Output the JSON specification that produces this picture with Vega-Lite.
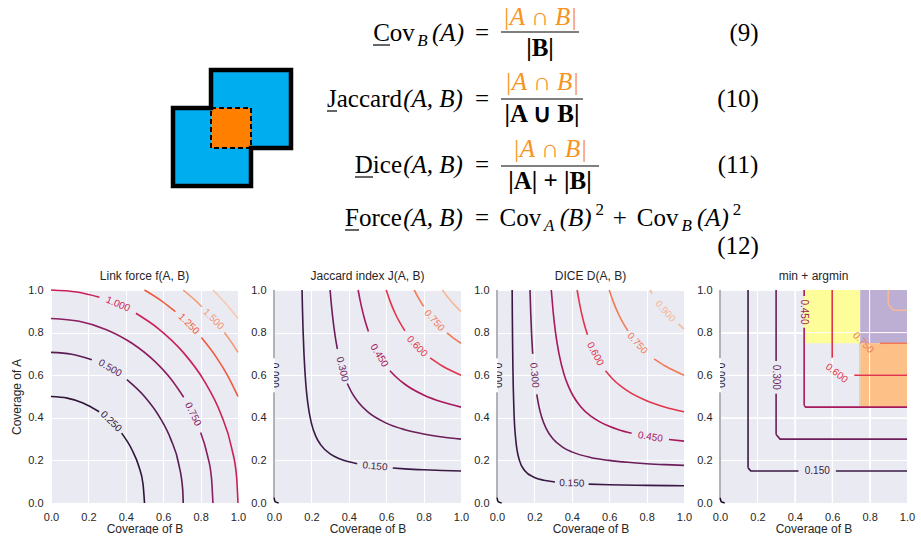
{
"$schema": "https://vega.github.io/schema/vega-lite/v6.json",
"padding": {"left": 10, "top": 0, "right": 0, "bottom": 0},
"background": "white",
"config": {
 "view": {"fill": "#EAEAF2", "stroke": null},
 "axis": {"domain": false, "ticks": false, "labelFlush": false, "gridColor": "white", "gridWidth": 1, "labelFont": "Liberation Sans", "labelFontSize": 11, "labelColor": "#262626", "titleFont": "Liberation Sans", "titleFontSize": 12, "titleFontWeight": "normal", "titleColor": "#262626"},
 "title": {"font": "Liberation Sans", "fontSize": 12, "fontWeight": "normal", "color": "#262626", "offset": 1}
},
"datasets": {
 "sq": [
  {"lv": "sqb", "x": 210, "x2": 290, "y": 70, "y2": 148},
  {"lv": "sqb", "x": 172, "x2": 250, "y": 108, "y2": 186},
  {"lv": "sqo", "x": 210, "x2": 250, "y": 108, "y2": 148}
 ],
 "outline": [
  {"o": 0, "x": 210, "y": 70}, {"o": 1, "x": 290, "y": 70}, {"o": 2, "x": 290, "y": 148},
  {"o": 3, "x": 250, "y": 148}, {"o": 4, "x": 250, "y": 186}, {"o": 5, "x": 172, "y": 186},
  {"o": 6, "x": 172, "y": 108}, {"o": 7, "x": 210, "y": 108}, {"o": 8, "x": 210, "y": 70}
 ],
 "dash": [{"x": 210, "x2": 250, "y": 108, "y2": 148}],
 "rl": [
  {"x": 500, "x2": 578, "y": 32}, {"x": 500, "x2": 582, "y": 99}, {"x": 500, "x2": 598, "y": 166},
  {"x": 372, "x2": 389, "y": 45}, {"x": 326, "x2": 336, "y": 111}, {"x": 354, "x2": 372, "y": 177}, {"x": 344, "x2": 358, "y": 230}
 ],
 "eq": [
  {"k": "rm", "x": 393, "y": 41, "t": "Cov"},
  {"k": "rm", "x": 363.5, "y": 107, "t": "Jaccard"},
  {"k": "rm", "x": 377.4, "y": 173, "t": "Dice"},
  {"k": "rm", "x": 372.5, "y": 226, "t": "Force"},
  {"k": "rm", "x": 481, "y": 41, "t": "="},
  {"k": "rm", "x": 481, "y": 107, "t": "="},
  {"k": "rm", "x": 481, "y": 173, "t": "="},
  {"k": "rm", "x": 481, "y": 226, "t": "="},
  {"k": "rm", "x": 519.3, "y": 226, "t": "Cov"},
  {"k": "rm", "x": 618.7, "y": 226, "t": "+"},
  {"k": "rm", "x": 656.6, "y": 226, "t": "Cov"},
  {"k": "rm", "x": 743, "y": 41, "t": "(9)"},
  {"k": "rm", "x": 737, "y": 107, "t": "(10)"},
  {"k": "rm", "x": 737, "y": 173, "t": "(11)"},
  {"k": "rm", "x": 737, "y": 254, "t": "(12)"},
  {"k": "it", "x": 447, "y": 41, "t": "(A)"},
  {"k": "it", "x": 432, "y": 107, "t": "(A, B)"},
  {"k": "it", "x": 432, "y": 173, "t": "(A, B)"},
  {"k": "it", "x": 432, "y": 226, "t": "(A, B)"},
  {"k": "it", "x": 574.6, "y": 226, "t": "(B)"},
  {"k": "it", "x": 711.9, "y": 226, "t": "(A)"},
  {"k": "sub", "x": 421.5, "y": 46, "t": "B"},
  {"k": "sub", "x": 548.3, "y": 231, "t": "A"},
  {"k": "sub", "x": 685.7, "y": 231, "t": "B"},
  {"k": "sup", "x": 598.7, "y": 215, "t": "2"},
  {"k": "sup", "x": 735.9, "y": 215, "t": "2"},
  {"k": "num", "x": 539, "y": 25, "t": "|A ∩ B|"},
  {"k": "num", "x": 541, "y": 90, "t": "|A ∩ B|"},
  {"k": "num", "x": 549, "y": 157, "t": "|A ∩ B|"},
  {"k": "den", "x": 539, "y": 56, "t": "|B|"},
  {"k": "den", "x": 541, "y": 122, "t": "|A ∪ B|"},
  {"k": "den", "x": 549, "y": 189, "t": "|A| + |B|"}
 ],
 "regions": [
  {"lv": "yel", "B": 0.45, "B2": 0.75, "A": 0.75, "A2": 1},
  {"lv": "pur", "B": 0.75, "B2": 1, "A": 0.75, "A2": 1},
  {"lv": "ora", "B": 0.75, "B2": 1, "A": 0.45, "A2": 0.75},
  {"lv": "grn", "B": 0.744, "B2": 0.75, "A": 0.45, "A2": 0.75}
 ],
 "lines": [
  {"p":1,"lv":"F.25","s":"1a","B":0,"A":0.5},{"p":1,"lv":"F.25","s":"1a","B":0.0868,"A":0.4924},{"p":1,"lv":"F.25","s":"1a","B":0.171,"A":0.47},{"p":1,"lv":"F.25","s":"1a","B":0.2575,"A":0.4286},
  {"p":1,"lv":"F.25","s":"1b","B":0.3774,"A":0.328},{"p":1,"lv":"F.25","s":"1b","B":0.433,"A":0.25},{"p":1,"lv":"F.25","s":"1b","B":0.47,"A":0.171},{"p":1,"lv":"F.25","s":"1b","B":0.4924,"A":0.0868},{"p":1,"lv":"F.25","s":"1b","B":0.5,"A":0},
  {"p":1,"lv":"F.50","s":"2a","B":0,"A":0.7071},{"p":1,"lv":"F.50","s":"2a","B":0.1106,"A":0.6984},{"p":1,"lv":"F.50","s":"2a","B":0.2185,"A":0.6725},
  {"p":1,"lv":"F.50","s":"2b","B":0.4056,"A":0.5792},{"p":1,"lv":"F.50","s":"2b","B":0.5,"A":0.5},{"p":1,"lv":"F.50","s":"2b","B":0.5792,"A":0.4056},{"p":1,"lv":"F.50","s":"2b","B":0.6409,"A":0.2988},{"p":1,"lv":"F.50","s":"2b","B":0.683,"A":0.183},{"p":1,"lv":"F.50","s":"2b","B":0.7044,"A":0.0616},{"p":1,"lv":"F.50","s":"2b","B":0.7071,"A":0},
  {"p":1,"lv":"F.75","s":"3a","B":0,"A":0.866},{"p":1,"lv":"F.75","s":"3a","B":0.1504,"A":0.8529},{"p":1,"lv":"F.75","s":"3a","B":0.2962,"A":0.8138},{"p":1,"lv":"F.75","s":"3a","B":0.433,"A":0.75},{"p":1,"lv":"F.75","s":"3a","B":0.5567,"A":0.6634},{"p":1,"lv":"F.75","s":"3a","B":0.6436,"A":0.5795},{"p":1,"lv":"F.75","s":"3a","B":0.7094,"A":0.4967},
  {"p":1,"lv":"F.75","s":"3b","B":0.8001,"A":0.3314},{"p":1,"lv":"F.75","s":"3b","B":0.8365,"A":0.2241},{"p":1,"lv":"F.75","s":"3b","B":0.8586,"A":0.113},{"p":1,"lv":"F.75","s":"3b","B":0.866,"A":0},
  {"p":1,"lv":"F1.00","s":"4a","B":0,"A":1},{"p":1,"lv":"F1.00","s":"4a","B":0.1392,"A":0.9903},{"p":1,"lv":"F1.00","s":"4a","B":0.2588,"A":0.9659},
  {"p":1,"lv":"F1.00","s":"4b","B":0.454,"A":0.891},{"p":1,"lv":"F1.00","s":"4b","B":0.5736,"A":0.8192},{"p":1,"lv":"F1.00","s":"4b","B":0.7071,"A":0.7071},{"p":1,"lv":"F1.00","s":"4b","B":0.8192,"A":0.5736},{"p":1,"lv":"F1.00","s":"4b","B":0.9063,"A":0.4226},{"p":1,"lv":"F1.00","s":"4b","B":0.9659,"A":0.2588},{"p":1,"lv":"F1.00","s":"4b","B":0.9925,"A":0.1219},{"p":1,"lv":"F1.00","s":"4b","B":1,"A":0},
  {"p":1,"lv":"F1.25","s":"5a","B":0.5,"A":1},{"p":1,"lv":"F1.25","s":"5a","B":0.5924,"A":0.9481},{"p":1,"lv":"F1.25","s":"5a","B":0.665,"A":0.8987},
  {"p":1,"lv":"F1.25","s":"5b","B":0.8042,"A":0.7766},{"p":1,"lv":"F1.25","s":"5b","B":0.881,"A":0.6883},{"p":1,"lv":"F1.25","s":"5b","B":0.9481,"A":0.5924},{"p":1,"lv":"F1.25","s":"5b","B":1,"A":0.5},
  {"p":1,"lv":"F1.50","s":"6a","B":0.7071,"A":1},{"p":1,"lv":"F1.50","s":"6a","B":0.7573,"A":0.9625},{"p":1,"lv":"F1.50","s":"6a","B":0.8067,"A":0.9215},
  {"p":1,"lv":"F1.50","s":"6b","B":0.9272,"A":0.8002},{"p":1,"lv":"F1.50","s":"6b","B":0.9651,"A":0.754},{"p":1,"lv":"F1.50","s":"6b","B":1,"A":0.7071},
  {"p":1,"lv":"F1.75","s":"7","B":0.866,"A":1},{"p":1,"lv":"F1.75","s":"7","B":0.9354,"A":0.9354},{"p":1,"lv":"F1.75","s":"7","B":1,"A":0.866},

  {"p":2,"lv":"0.15","s":"j15a","B":0.15,"A":1},{"p":2,"lv":"0.15","s":"j15a","B":0.152,"A":0.919},{"p":2,"lv":"0.15","s":"j15a","B":0.155,"A":0.823},{"p":2,"lv":"0.15","s":"j15a","B":0.16,"A":0.706},{"p":2,"lv":"0.15","s":"j15a","B":0.17,"A":0.56},{"p":2,"lv":"0.15","s":"j15a","B":0.18,"A":0.474},{"p":2,"lv":"0.15","s":"j15a","B":0.2,"A":0.375},{"p":2,"lv":"0.15","s":"j15a","B":0.225,"A":0.3103},{"p":2,"lv":"0.15","s":"j15a","B":0.25,"A":0.273},{"p":2,"lv":"0.15","s":"j15a","B":0.3,"A":0.2308},{"p":2,"lv":"0.15","s":"j15a","B":0.35,"A":0.2079},{"p":2,"lv":"0.15","s":"j15a","B":0.4,"A":0.1935},{"p":2,"lv":"0.15","s":"j15a","B":0.445,"A":0.1845},
  {"p":2,"lv":"0.15","s":"j15b","B":0.635,"A":0.1642},{"p":2,"lv":"0.15","s":"j15b","B":0.7,"A":0.1603},{"p":2,"lv":"0.15","s":"j15b","B":0.8,"A":0.1558},{"p":2,"lv":"0.15","s":"j15b","B":0.9,"A":0.1525},{"p":2,"lv":"0.15","s":"j15b","B":1,"A":0.15},
  {"p":2,"lv":"0.30","s":"j30a","B":0.3,"A":1},{"p":2,"lv":"0.30","s":"j30a","B":0.305,"A":0.948},{"p":2,"lv":"0.30","s":"j30a","B":0.31,"A":0.903},{"p":2,"lv":"0.30","s":"j30a","B":0.32,"A":0.828},{"p":2,"lv":"0.30","s":"j30a","B":0.33,"A":0.767},{"p":2,"lv":"0.30","s":"j30a","B":0.339,"A":0.723},
  {"p":2,"lv":"0.30","s":"j30b","B":0.392,"A":0.561},{"p":2,"lv":"0.30","s":"j30b","B":0.42,"A":0.512},{"p":2,"lv":"0.30","s":"j30b","B":0.45,"A":0.474},{"p":2,"lv":"0.30","s":"j30b","B":0.5,"A":0.4286},{"p":2,"lv":"0.30","s":"j30b","B":0.6,"A":0.375},{"p":2,"lv":"0.30","s":"j30b","B":0.7,"A":0.344},{"p":2,"lv":"0.30","s":"j30b","B":0.8,"A":0.324},{"p":2,"lv":"0.30","s":"j30b","B":0.9,"A":0.31},{"p":2,"lv":"0.30","s":"j30b","B":1,"A":0.3},
  {"p":2,"lv":"0.45","s":"j45a","B":0.45,"A":1},{"p":2,"lv":"0.45","s":"j45a","B":0.46,"A":0.954},{"p":2,"lv":"0.45","s":"j45a","B":0.47,"A":0.914},{"p":2,"lv":"0.45","s":"j45a","B":0.48,"A":0.878},{"p":2,"lv":"0.45","s":"j45a","B":0.49,"A":0.846},{"p":2,"lv":"0.45","s":"j45a","B":0.505,"A":0.805},
  {"p":2,"lv":"0.45","s":"j45b","B":0.62,"A":0.621},{"p":2,"lv":"0.45","s":"j45b","B":0.65,"A":0.594},{"p":2,"lv":"0.45","s":"j45b","B":0.7,"A":0.5575},{"p":2,"lv":"0.45","s":"j45b","B":0.8,"A":0.507},{"p":2,"lv":"0.45","s":"j45b","B":0.9,"A":0.4737},{"p":2,"lv":"0.45","s":"j45b","B":1,"A":0.45},
  {"p":2,"lv":"0.60","s":"j60a","B":0.6,"A":1},{"p":2,"lv":"0.60","s":"j60a","B":0.62,"A":0.949},{"p":2,"lv":"0.60","s":"j60a","B":0.65,"A":0.886},{"p":2,"lv":"0.60","s":"j60a","B":0.7,"A":0.808},
  {"p":2,"lv":"0.60","s":"j60b","B":0.835,"A":0.681},{"p":2,"lv":"0.60","s":"j60b","B":0.9,"A":0.643},{"p":2,"lv":"0.60","s":"j60b","B":1,"A":0.6},
  {"p":2,"lv":"0.75","s":"j75a","B":0.75,"A":1},{"p":2,"lv":"0.75","s":"j75a","B":0.77,"A":0.9665},{"p":2,"lv":"0.75","s":"j75a","B":0.8,"A":0.923},
  {"p":2,"lv":"0.75","s":"j75b","B":0.925,"A":0.7986},{"p":2,"lv":"0.75","s":"j75b","B":0.96,"A":0.774},{"p":2,"lv":"0.75","s":"j75b","B":1,"A":0.75},
  {"p":2,"lv":"0.90","s":"j90","B":0.9,"A":1},{"p":2,"lv":"0.90","s":"j90","B":0.92,"A":0.976},{"p":2,"lv":"0.90","s":"j90","B":0.95,"A":0.945},{"p":2,"lv":"0.90","s":"j90","B":0.975,"A":0.921},{"p":2,"lv":"0.90","s":"j90","B":1,"A":0.9},
  {"p":2,"lv":"0.00","s":"z2a","B":0,"A":1},{"p":2,"lv":"0.00","s":"z2a","B":0,"A":0.68},
  {"p":2,"lv":"0.00","s":"z2b","B":0,"A":0.52},{"p":2,"lv":"0.00","s":"z2b","B":0,"A":0.025},
  {"p":2,"lv":"0.00h","s":"z2c","B":0,"A":0.025},{"p":2,"lv":"0.00h","s":"z2c","B":0.006,"A":0.006},{"p":2,"lv":"0.00h","s":"z2c","B":0.025,"A":0},

  {"p":3,"lv":"0.15","s":"d15a","B":0.0811,"A":1},{"p":3,"lv":"0.15","s":"d15a","B":0.082,"A":0.879},{"p":3,"lv":"0.15","s":"d15a","B":0.083,"A":0.778},{"p":3,"lv":"0.15","s":"d15a","B":0.085,"A":0.6375},{"p":3,"lv":"0.15","s":"d15a","B":0.09,"A":0.45},{"p":3,"lv":"0.15","s":"d15a","B":0.1,"A":0.3},{"p":3,"lv":"0.15","s":"d15a","B":0.12,"A":0.2},{"p":3,"lv":"0.15","s":"d15a","B":0.15,"A":0.15},{"p":3,"lv":"0.15","s":"d15a","B":0.2,"A":0.12},{"p":3,"lv":"0.15","s":"d15a","B":0.25,"A":0.107},{"p":3,"lv":"0.15","s":"d15a","B":0.31,"A":0.0989},
  {"p":3,"lv":"0.15","s":"d15b","B":0.49,"A":0.0886},{"p":3,"lv":"0.15","s":"d15b","B":0.6,"A":0.0857},{"p":3,"lv":"0.15","s":"d15b","B":0.8,"A":0.0828},{"p":3,"lv":"0.15","s":"d15b","B":1,"A":0.0811},
  {"p":3,"lv":"0.30","s":"d30a","B":0.1765,"A":1},{"p":3,"lv":"0.30","s":"d30a","B":0.18,"A":0.9},{"p":3,"lv":"0.30","s":"d30a","B":0.1846,"A":0.8},{"p":3,"lv":"0.30","s":"d30a","B":0.1909,"A":0.7},
  {"p":3,"lv":"0.30","s":"d30b","B":0.2125,"A":0.51},{"p":3,"lv":"0.30","s":"d30b","B":0.225,"A":0.45},{"p":3,"lv":"0.30","s":"d30b","B":0.24,"A":0.4},{"p":3,"lv":"0.30","s":"d30b","B":0.2625,"A":0.35},{"p":3,"lv":"0.30","s":"d30b","B":0.3,"A":0.3},{"p":3,"lv":"0.30","s":"d30b","B":0.35,"A":0.2625},{"p":3,"lv":"0.30","s":"d30b","B":0.4,"A":0.24},{"p":3,"lv":"0.30","s":"d30b","B":0.5,"A":0.214},{"p":3,"lv":"0.30","s":"d30b","B":0.6,"A":0.2},{"p":3,"lv":"0.30","s":"d30b","B":0.7,"A":0.191},{"p":3,"lv":"0.30","s":"d30b","B":0.8,"A":0.1846},{"p":3,"lv":"0.30","s":"d30b","B":0.9,"A":0.18},{"p":3,"lv":"0.30","s":"d30b","B":1,"A":0.1765},
  {"p":3,"lv":"0.45","s":"d45a","B":0.2903,"A":1},{"p":3,"lv":"0.45","s":"d45a","B":0.3,"A":0.9},{"p":3,"lv":"0.45","s":"d45a","B":0.313,"A":0.8},{"p":3,"lv":"0.45","s":"d45a","B":0.3316,"A":0.7},{"p":3,"lv":"0.45","s":"d45a","B":0.36,"A":0.6},{"p":3,"lv":"0.45","s":"d45a","B":0.381,"A":0.55},{"p":3,"lv":"0.45","s":"d45a","B":0.409,"A":0.5},{"p":3,"lv":"0.45","s":"d45a","B":0.45,"A":0.45},{"p":3,"lv":"0.45","s":"d45a","B":0.5,"A":0.409},{"p":3,"lv":"0.45","s":"d45a","B":0.55,"A":0.381},{"p":3,"lv":"0.45","s":"d45a","B":0.6,"A":0.36},{"p":3,"lv":"0.45","s":"d45a","B":0.65,"A":0.344},{"p":3,"lv":"0.45","s":"d45a","B":0.72,"A":0.327},
  {"p":3,"lv":"0.45","s":"d45b","B":0.92,"A":0.2978},{"p":3,"lv":"0.45","s":"d45b","B":1,"A":0.2903},
  {"p":3,"lv":"0.60","s":"d60a","B":0.4286,"A":1},{"p":3,"lv":"0.60","s":"d60a","B":0.4385,"A":0.95},{"p":3,"lv":"0.60","s":"d60a","B":0.45,"A":0.9},{"p":3,"lv":"0.60","s":"d60a","B":0.4636,"A":0.85},{"p":3,"lv":"0.60","s":"d60a","B":0.4837,"A":0.79},
  {"p":3,"lv":"0.60","s":"d60b","B":0.58,"A":0.621},{"p":3,"lv":"0.60","s":"d60b","B":0.62,"A":0.581},{"p":3,"lv":"0.60","s":"d60b","B":0.7,"A":0.525},{"p":3,"lv":"0.60","s":"d60b","B":0.8,"A":0.48},{"p":3,"lv":"0.60","s":"d60b","B":0.9,"A":0.45},{"p":3,"lv":"0.60","s":"d60b","B":1,"A":0.4286},
  {"p":3,"lv":"0.75","s":"d75a","B":0.6,"A":1},{"p":3,"lv":"0.75","s":"d75a","B":0.62,"A":0.949},{"p":3,"lv":"0.75","s":"d75a","B":0.65,"A":0.886},{"p":3,"lv":"0.75","s":"d75a","B":0.7,"A":0.808},
  {"p":3,"lv":"0.75","s":"d75b","B":0.84,"A":0.677},{"p":3,"lv":"0.75","s":"d75b","B":0.9,"A":0.643},{"p":3,"lv":"0.75","s":"d75b","B":1,"A":0.6},
  {"p":3,"lv":"0.90","s":"d90a","B":0.818,"A":1},{"p":3,"lv":"0.90","s":"d90a","B":0.83,"A":0.983},
  {"p":3,"lv":"0.90","s":"d90b","B":0.97,"A":0.8394},{"p":3,"lv":"0.90","s":"d90b","B":1,"A":0.818},
  {"p":3,"lv":"0.00","s":"z3a","B":0,"A":1},{"p":3,"lv":"0.00","s":"z3a","B":0,"A":0.68},
  {"p":3,"lv":"0.00","s":"z3b","B":0,"A":0.52},{"p":3,"lv":"0.00","s":"z3b","B":0,"A":0.025},
  {"p":3,"lv":"0.00h","s":"z3c","B":0,"A":0.025},{"p":3,"lv":"0.00h","s":"z3c","B":0.006,"A":0.006},{"p":3,"lv":"0.00h","s":"z3c","B":0.025,"A":0},

  {"p":4,"lv":"0.15","s":"m15v","B":0.15,"A":1},{"p":4,"lv":"0.15","s":"m15v","B":0.15,"A":0.165},
  {"p":4,"lv":"0.15","s":"m15h","B":0.15,"A":0.165},{"p":4,"lv":"0.15","s":"m15h","B":0.165,"A":0.15},{"p":4,"lv":"0.15","s":"m15h","B":0.42,"A":0.15},
  {"p":4,"lv":"0.15","s":"m15h2","B":0.62,"A":0.15},{"p":4,"lv":"0.15","s":"m15h2","B":1,"A":0.15},
  {"p":4,"lv":"0.30","s":"m30v1","B":0.3,"A":1},{"p":4,"lv":"0.30","s":"m30v1","B":0.3,"A":0.667},
  {"p":4,"lv":"0.30","s":"m30v2","B":0.3,"A":0.513},{"p":4,"lv":"0.30","s":"m30v2","B":0.3,"A":0.322},
  {"p":4,"lv":"0.30","s":"m30h","B":0.3,"A":0.322},{"p":4,"lv":"0.30","s":"m30h","B":0.321,"A":0.3},{"p":4,"lv":"0.30","s":"m30h","B":1,"A":0.3},
  {"p":4,"lv":"0.45","s":"m45v1","B":0.45,"A":1},{"p":4,"lv":"0.45","s":"m45v1","B":0.45,"A":0.972},
  {"p":4,"lv":"0.45","s":"m45v2","B":0.45,"A":0.823},{"p":4,"lv":"0.45","s":"m45v2","B":0.45,"A":0.458},
  {"p":4,"lv":"0.45","s":"m45h","B":0.45,"A":0.458},{"p":4,"lv":"0.45","s":"m45h","B":0.458,"A":0.45},{"p":4,"lv":"0.45","s":"m45h","B":1,"A":0.45},
  {"p":4,"lv":"0.60","s":"m60v","B":0.6,"A":1},{"p":4,"lv":"0.60","s":"m60v","B":0.6,"A":0.682},
  {"p":4,"lv":"0.60","s":"m60h","B":0.718,"A":0.6},{"p":4,"lv":"0.60","s":"m60h","B":1,"A":0.6},
  {"p":4,"lv":"0.75","s":"m75h","B":0.856,"A":0.75},{"p":4,"lv":"0.75","s":"m75h","B":1,"A":0.75},
  {"p":4,"lv":"0.90","s":"m90v","B":0.9,"A":1},{"p":4,"lv":"0.90","s":"m90v","B":0.9,"A":0.93},
  {"p":4,"lv":"0.90","s":"m90h","B":0.9,"A":0.93},{"p":4,"lv":"0.90","s":"m90h","B":0.927,"A":0.905},{"p":4,"lv":"0.90","s":"m90h","B":1,"A":0.905},
  {"p":4,"lv":"0.00","s":"z4a","B":0,"A":1},{"p":4,"lv":"0.00","s":"z4a","B":0,"A":0.68},
  {"p":4,"lv":"0.00","s":"z4b","B":0,"A":0.52},{"p":4,"lv":"0.00","s":"z4b","B":0,"A":0.025},
  {"p":4,"lv":"0.00h","s":"z4c","B":0,"A":0.025},{"p":4,"lv":"0.00h","s":"z4c","B":0.006,"A":0.006},{"p":4,"lv":"0.00h","s":"z4c","B":0.025,"A":0}
 ],
 "labels": [
  {"p":1,"lv":"F.25","B":0.3214,"A":0.383,"t":"0.250","ang":44},
  {"p":1,"lv":"F.50","B":0.3155,"A":0.6328,"t":"0.500","ang":30},
  {"p":1,"lv":"F.75","B":0.7593,"A":0.4165,"t":"0.750","ang":64},
  {"p":1,"lv":"F1.00","B":0.3584,"A":0.9336,"t":"1.000","ang":23},
  {"p":1,"lv":"F1.25","B":0.7367,"A":0.841,"t":"1.250","ang":45},
  {"p":1,"lv":"F1.50","B":0.869,"A":0.863,"t":"1.500","ang":45},
  {"p":2,"lv":"0.15","B":0.54,"A":0.172,"t":"0.150","ang":5},
  {"p":2,"lv":"0.30","B":0.365,"A":0.628,"t":"0.300","ang":77},
  {"p":2,"lv":"0.45","B":0.5625,"A":0.692,"t":"0.450","ang":58},
  {"p":2,"lv":"0.60","B":0.765,"A":0.7356,"t":"0.600","ang":46},
  {"p":2,"lv":"0.75","B":0.857,"A":0.857,"t":"0.750","ang":48},
  {"p":2,"lv":"0.00h","B":0,"A":0.6,"t":"0.000","ang":90},
  {"p":3,"lv":"0.15","B":0.4,"A":0.0923,"t":"0.150","ang":1},
  {"p":3,"lv":"0.30","B":0.2,"A":0.6,"t":"0.300","ang":85},
  {"p":3,"lv":"0.45","B":0.82,"A":0.31,"t":"0.450","ang":9},
  {"p":3,"lv":"0.60","B":0.525,"A":0.7,"t":"0.600","ang":62},
  {"p":3,"lv":"0.75","B":0.75,"A":0.75,"t":"0.750","ang":48},
  {"p":3,"lv":"0.90","B":0.9,"A":0.9,"t":"0.900","ang":48},
  {"p":3,"lv":"0.00h","B":0,"A":0.6,"t":"0.000","ang":90},
  {"p":4,"lv":"0.15","B":0.52,"A":0.15,"t":"0.150","ang":0},
  {"p":4,"lv":"0.30","B":0.3,"A":0.59,"t":"0.300","ang":90},
  {"p":4,"lv":"0.45","B":0.45,"A":0.897,"t":"0.450","ang":90},
  {"p":4,"lv":"0.60","B":0.624,"A":0.609,"t":"0.600","ang":38},
  {"p":4,"lv":"0.75","B":0.766,"A":0.753,"t":"0.750","ang":45},
  {"p":4,"lv":"0.00h","B":0,"A":0.6,"t":"0.000","ang":90}
 ]
},
"spacing": 10,
"vconcat": [
 {
  "width": 871, "height": 260,
  "view": {"fill": null, "stroke": null},
  "encoding": {
   "x": {"field": "x", "type": "quantitative", "scale": {"domain": [50, 921], "nice": false, "zero": false}, "axis": null},
   "y": {"field": "y", "type": "quantitative", "scale": {"domain": [0, 260], "nice": false, "zero": false, "reverse": true}, "axis": null}
  },
  "layer": [
   {"data": {"name": "sq"}, "mark": {"type": "rect"}, "encoding": {"x2": {"field": "x2"}, "y2": {"field": "y2"}, "color": {"field": "lv", "type": "nominal", "legend": null, "scale": {"domain": ["F.25","F.50","F.75","F1.00","F1.25","F1.50","F1.75","0.15","0.30","0.45","0.60","0.75","0.90","0.00","0.00h","yel","pur","ora","grn","sqb","sqo"], "range": ["#2e1538","#5a1c52","#8c1d5e","#cb1f57","#ee5a3e","#f59872","#f8c8ae","#3a1a45","#6c1e5a","#a7195c","#e2344a","#f07a56","#f6b896","#9e9ea8","#1a0e26","#fdfd99","#bdafd4","#fdc087","#c2dcbc","#00aeef","#ff7f00"]}}}},
   {"data": {"name": "outline"}, "mark": {"type": "line", "color": "black", "strokeWidth": 4.5, "strokeJoin": "miter", "strokeCap": "square"}, "encoding": {"order": {"field": "o", "type": "quantitative"}}},
   {"data": {"name": "dash"}, "mark": {"type": "rect", "filled": false, "color": "black", "strokeWidth": 2, "strokeDash": [5, 3]}, "encoding": {"x2": {"field": "x2"}, "y2": {"field": "y2"}}},
   {"data": {"name": "rl"}, "mark": {"type": "rule", "color": "black", "strokeWidth": 1.2}, "encoding": {"x2": {"field": "x2"}}},
   {"data": {"name": "eq"}, "transform": [{"filter": "datum.k == 'rm'"}], "mark": {"type": "text", "font": "Liberation Serif", "fontSize": 25, "align": "center", "baseline": "alphabetic", "color": "black"}, "encoding": {"text": {"field": "t"}}},
   {"data": {"name": "eq"}, "transform": [{"filter": "datum.k == 'it'"}], "mark": {"type": "text", "font": "Liberation Serif", "fontSize": 25, "fontStyle": "italic", "align": "center", "baseline": "alphabetic", "color": "black"}, "encoding": {"text": {"field": "t"}}},
   {"data": {"name": "eq"}, "transform": [{"filter": "datum.k == 'sub'"}], "mark": {"type": "text", "font": "Liberation Serif", "fontSize": 17, "fontStyle": "italic", "align": "center", "baseline": "alphabetic", "color": "black"}, "encoding": {"text": {"field": "t"}}},
   {"data": {"name": "eq"}, "transform": [{"filter": "datum.k == 'sup'"}], "mark": {"type": "text", "font": "Liberation Serif", "fontSize": 17, "align": "center", "baseline": "alphabetic", "color": "black"}, "encoding": {"text": {"field": "t"}}},
   {"data": {"name": "eq"}, "transform": [{"filter": "datum.k == 'num'"}], "mark": {"type": "text", "font": "Liberation Serif", "fontSize": 25, "fontStyle": "italic", "align": "center", "baseline": "alphabetic", "color": "#f7931e"}, "encoding": {"text": {"field": "t"}}},
   {"data": {"name": "eq"}, "transform": [{"filter": "datum.k == 'den'"}], "mark": {"type": "text", "font": "Liberation Serif", "fontSize": 25, "fontWeight": "bold", "align": "center", "baseline": "alphabetic", "color": "black"}, "encoding": {"text": {"field": "t"}}}
  ]
 },
 {
  "spacing": 4,
  "hconcat": [
   {
    "width": 187, "height": 213, "title": "Link force f(A, B)",
    "encoding": {
     "x": {"field": "B", "type": "quantitative", "title": "Coverage of B", "scale": {"domain": [0, 1], "nice": false, "zero": false}, "axis": {"values": [0, 0.2, 0.4, 0.6, 0.8, 1], "format": ".1f", "labelPadding": 8, "titlePadding": 1}},
     "y": {"field": "A", "type": "quantitative", "title": "Coverage of A", "scale": {"domain": [0, 1], "nice": false, "zero": false}, "axis": {"values": [0, 0.2, 0.4, 0.6, 0.8, 1], "format": ".1f", "labelPadding": 8, "titlePadding": 4}},
     "color": {"field": "lv", "type": "nominal", "legend": null, "scale": {"domain": ["F.25","F.50","F.75","F1.00","F1.25","F1.50","F1.75","0.15","0.30","0.45","0.60","0.75","0.90","0.00","0.00h","yel","pur","ora","grn","sqb","sqo"], "range": ["#2e1538","#5a1c52","#8c1d5e","#cb1f57","#ee5a3e","#f59872","#f8c8ae","#3a1a45","#6c1e5a","#a7195c","#e2344a","#f07a56","#f6b896","#9e9ea8","#1a0e26","#fdfd99","#bdafd4","#fdc087","#c2dcbc","#00aeef","#ff7f00"]}}
    },
    "layer": [
     {"data": {"name": "lines"}, "transform": [{"filter": "datum.p == 1"}], "mark": {"type": "line", "strokeWidth": 1.6, "interpolate": "monotone"}, "encoding": {"detail": {"field": "s"}}},
     {"data": {"name": "labels"}, "transform": [{"filter": "datum.p == 1"}], "mark": {"type": "text", "font": "Liberation Sans", "fontSize": 10, "align": "center", "baseline": "middle", "clip": true}, "encoding": {"text": {"field": "t"}, "angle": {"field": "ang", "type": "quantitative", "scale": null}}}
    ]
   },
   {
    "width": 187, "height": 213, "title": "Jaccard index J(A, B)",
    "encoding": {
     "x": {"field": "B", "type": "quantitative", "title": "Coverage of B", "scale": {"domain": [0, 1], "nice": false, "zero": false}, "axis": {"values": [0, 0.2, 0.4, 0.6, 0.8, 1], "format": ".1f", "labelPadding": 8, "titlePadding": 1}},
     "y": {"field": "A", "type": "quantitative", "title": null, "scale": {"domain": [0, 1], "nice": false, "zero": false}, "axis": {"values": [0, 0.2, 0.4, 0.6, 0.8, 1], "format": ".1f", "labelPadding": 8}},
     "color": {"field": "lv", "type": "nominal", "legend": null, "scale": {"domain": ["F.25","F.50","F.75","F1.00","F1.25","F1.50","F1.75","0.15","0.30","0.45","0.60","0.75","0.90","0.00","0.00h","yel","pur","ora","grn","sqb","sqo"], "range": ["#2e1538","#5a1c52","#8c1d5e","#cb1f57","#ee5a3e","#f59872","#f8c8ae","#3a1a45","#6c1e5a","#a7195c","#e2344a","#f07a56","#f6b896","#9e9ea8","#1a0e26","#fdfd99","#bdafd4","#fdc087","#c2dcbc","#00aeef","#ff7f00"]}}
    },
    "layer": [
     {"data": {"name": "lines"}, "transform": [{"filter": "datum.p == 2"}], "mark": {"type": "line", "strokeWidth": 1.6, "interpolate": "monotone"}, "encoding": {"detail": {"field": "s"}}},
     {"data": {"name": "labels"}, "transform": [{"filter": "datum.p == 2"}], "mark": {"type": "text", "font": "Liberation Sans", "fontSize": 10, "align": "center", "baseline": "middle", "clip": true}, "encoding": {"text": {"field": "t"}, "angle": {"field": "ang", "type": "quantitative", "scale": null}}}
    ]
   },
   {
    "width": 187, "height": 213, "title": "DICE D(A, B)",
    "encoding": {
     "x": {"field": "B", "type": "quantitative", "title": "Coverage of B", "scale": {"domain": [0, 1], "nice": false, "zero": false}, "axis": {"values": [0, 0.2, 0.4, 0.6, 0.8, 1], "format": ".1f", "labelPadding": 8, "titlePadding": 1}},
     "y": {"field": "A", "type": "quantitative", "title": null, "scale": {"domain": [0, 1], "nice": false, "zero": false}, "axis": {"values": [0, 0.2, 0.4, 0.6, 0.8, 1], "format": ".1f", "labelPadding": 8}},
     "color": {"field": "lv", "type": "nominal", "legend": null, "scale": {"domain": ["F.25","F.50","F.75","F1.00","F1.25","F1.50","F1.75","0.15","0.30","0.45","0.60","0.75","0.90","0.00","0.00h","yel","pur","ora","grn","sqb","sqo"], "range": ["#2e1538","#5a1c52","#8c1d5e","#cb1f57","#ee5a3e","#f59872","#f8c8ae","#3a1a45","#6c1e5a","#a7195c","#e2344a","#f07a56","#f6b896","#9e9ea8","#1a0e26","#fdfd99","#bdafd4","#fdc087","#c2dcbc","#00aeef","#ff7f00"]}}
    },
    "layer": [
     {"data": {"name": "lines"}, "transform": [{"filter": "datum.p == 3"}], "mark": {"type": "line", "strokeWidth": 1.6, "interpolate": "monotone"}, "encoding": {"detail": {"field": "s"}}},
     {"data": {"name": "labels"}, "transform": [{"filter": "datum.p == 3"}], "mark": {"type": "text", "font": "Liberation Sans", "fontSize": 10, "align": "center", "baseline": "middle", "clip": true}, "encoding": {"text": {"field": "t"}, "angle": {"field": "ang", "type": "quantitative", "scale": null}}}
    ]
   },
   {
    "width": 187, "height": 213, "title": "min + argmin",
    "encoding": {
     "x": {"field": "B", "type": "quantitative", "title": "Coverage of B", "scale": {"domain": [0, 1], "nice": false, "zero": false}, "axis": {"values": [0, 0.2, 0.4, 0.6, 0.8, 1], "format": ".1f", "labelPadding": 8, "titlePadding": 1}},
     "y": {"field": "A", "type": "quantitative", "title": null, "scale": {"domain": [0, 1], "nice": false, "zero": false}, "axis": {"values": [0, 0.2, 0.4, 0.6, 0.8, 1], "format": ".1f", "labelPadding": 8}}
    },
    "layer": [
     {"data": {"name": "regions"}, "mark": {"type": "rect"}, "encoding": {"x2": {"field": "B2"}, "y2": {"field": "A2"}, "color": {"field": "lv", "type": "nominal", "legend": null, "scale": {"domain": ["F.25","F.50","F.75","F1.00","F1.25","F1.50","F1.75","0.15","0.30","0.45","0.60","0.75","0.90","0.00","0.00h","yel","pur","ora","grn","sqb","sqo"], "range": ["#2e1538","#5a1c52","#8c1d5e","#cb1f57","#ee5a3e","#f59872","#f8c8ae","#3a1a45","#6c1e5a","#a7195c","#e2344a","#f07a56","#f6b896","#9e9ea8","#1a0e26","#fdfd99","#bdafd4","#fdc087","#c2dcbc","#00aeef","#ff7f00"]}}}},
     {"data": {"values": [{"B": 0.2}, {"B": 0.4}, {"B": 0.6}, {"B": 0.8}]}, "mark": {"type": "rule", "color": "white", "strokeWidth": 1}, "encoding": {"y": null}},
     {"data": {"values": [{"A": 0.2}, {"A": 0.4}, {"A": 0.6}, {"A": 0.8}]}, "mark": {"type": "rule", "color": "white", "strokeWidth": 1}, "encoding": {"x": null}},
     {"data": {"name": "lines"}, "transform": [{"filter": "datum.p == 4"}], "mark": {"type": "line", "strokeWidth": 1.6, "interpolate": "linear"}, "encoding": {"detail": {"field": "s"}, "color": {"field": "lv", "type": "nominal", "legend": null, "scale": {"domain": ["F.25","F.50","F.75","F1.00","F1.25","F1.50","F1.75","0.15","0.30","0.45","0.60","0.75","0.90","0.00","0.00h","yel","pur","ora","grn","sqb","sqo"], "range": ["#2e1538","#5a1c52","#8c1d5e","#cb1f57","#ee5a3e","#f59872","#f8c8ae","#3a1a45","#6c1e5a","#a7195c","#e2344a","#f07a56","#f6b896","#9e9ea8","#1a0e26","#fdfd99","#bdafd4","#fdc087","#c2dcbc","#00aeef","#ff7f00"]}}}},
     {"data": {"name": "labels"}, "transform": [{"filter": "datum.p == 4"}], "mark": {"type": "text", "font": "Liberation Sans", "fontSize": 10, "align": "center", "baseline": "middle", "clip": true}, "encoding": {"text": {"field": "t"}, "angle": {"field": "ang", "type": "quantitative", "scale": null}, "color": {"field": "lv", "type": "nominal", "legend": null, "scale": {"domain": ["F.25","F.50","F.75","F1.00","F1.25","F1.50","F1.75","0.15","0.30","0.45","0.60","0.75","0.90","0.00","0.00h","yel","pur","ora","grn","sqb","sqo"], "range": ["#2e1538","#5a1c52","#8c1d5e","#cb1f57","#ee5a3e","#f59872","#f8c8ae","#3a1a45","#6c1e5a","#a7195c","#e2344a","#f07a56","#f6b896","#9e9ea8","#1a0e26","#fdfd99","#bdafd4","#fdc087","#c2dcbc","#00aeef","#ff7f00"]}}}}
    ]
   }
  ]
 }
]
}
